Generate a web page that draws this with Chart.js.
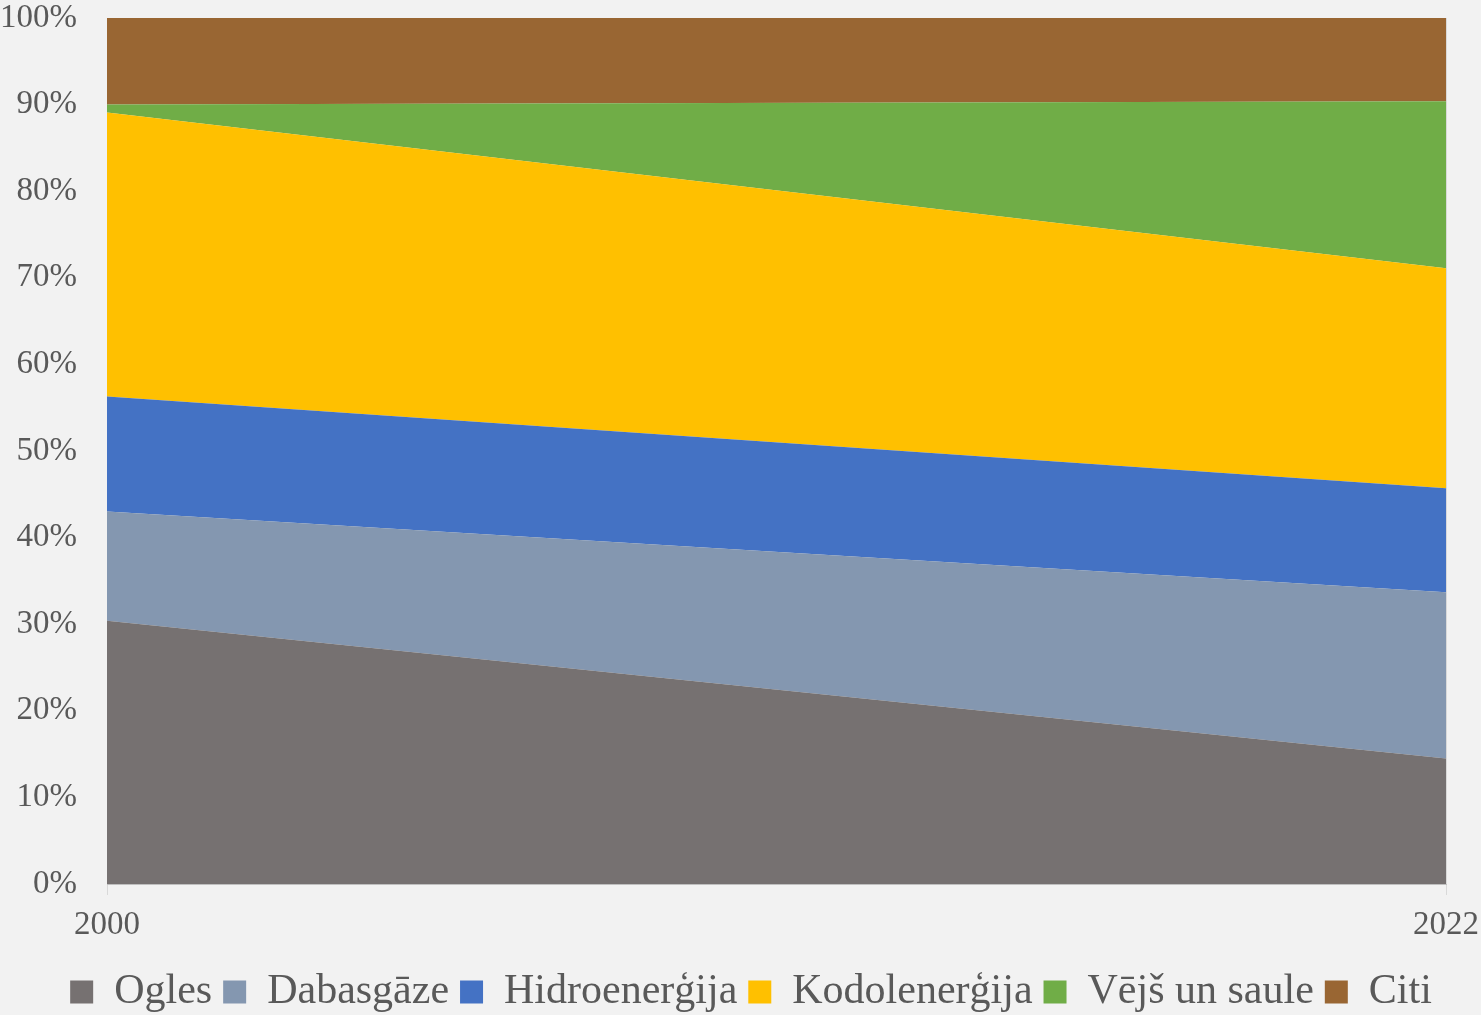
<!DOCTYPE html>
<html>
<head>
<meta charset="utf-8">
<script src="https://cdn.jsdelivr.net/npm/chart.js@4"></script>
<style>
    html, body { margin: 0; padding: 0; background: #f2f2f2; }
    #wrap { width: 1481px; height: 1015px; position: relative; }
</style>
</head>
<body>
<div id="wrap"><canvas id="energyChart"></canvas></div>
<script>
// Electricity mix, share of total (%)
const years = ['2000', '2022'];
const ogles = [30.4, 14.5];
const dabasgaze = [12.6, 19.2];
const hidro = [13.3, 12.0];
const kodol = [32.8, 25.4];
const vejsSaule = [0.9, 19.3];
const citi = [10.0, 9.6];

const seriesNames = ['Ogles', 'Dabasgāze', 'Hidroenerģija', 'Kodolenerģija', 'Vējš un saule', 'Citi'];
const seriesValues = [ogles, dabasgaze, hidro, kodol, vejsSaule, citi];
const seriesColors = ['#767171', '#8497b0', '#4472c4', '#ffc000', '#70ad47', '#996633'];

const textColor = '#595959';
const fontFamily = '"Liberation Serif", "DejaVu Serif", serif';

const datasets = seriesNames.map((name, i) => ({
    label: name,
    data: seriesValues[i],
    backgroundColor: seriesColors[i],
    borderColor: seriesColors[i],
    borderWidth: 0,
    pointRadius: 0,
    pointHoverRadius: 0,
    tension: 0,
    fill: i === 0 ? 'origin' : '-1'
}));

// The legend in the original is centred on the whole picture, not the plot
const legendShift = {
    id: 'legendShift',
    afterLayout(chart) {
        if (chart.legend) {
            chart.legend.left += 28;
            chart.legend.right += 28;
        }
    }
};

const ctx = document.getElementById('energyChart').getContext('2d');
new Chart(ctx, {
    type: 'line',
    data: { labels: years, datasets: datasets },
    plugins: [legendShift],
    options: {
        responsive: true,
        maintainAspectRatio: false,
        animation: false,
        layout: {
            padding: { top: 18, right: 35, bottom: -8, left: 0 }
        },
        scales: {
            x: {
                offset: false,
                grid: {
                    display: true,
                    color: '#d9d9d9',
                    lineWidth: 1,
                    tickLength: 11,
                    drawOnChartArea: true
                },
                border: { display: true, color: '#bfbfbf', width: 1 },
                ticks: {
                    color: textColor,
                    padding: 14,
                    maxRotation: 0,
                    font: { family: fontFamily, size: 33, lineHeight: 1 }
                },
                afterFit: function(scale) {
                    const legendH = scale.chart.legend ? scale.chart.legend.height : 0;
                    scale.height = 1015 - 884 - legendH + 8;
                    scale.paddingLeft = 0;
                    scale.paddingRight = 0;
                }
            },
            y: {
                stacked: true,
                min: 0,
                max: 100,
                grid: { display: false, drawTicks: false },
                border: { display: false },
                ticks: {
                    stepSize: 10,
                    color: textColor,
                    padding: 30,
                    font: { family: fontFamily, size: 33, lineHeight: 1 },
                    callback: function(value) {
                        return value + '%';
                    }
                },
                afterFit: function(scale) {
                    scale.width = 107;
                    scale.paddingTop = 0;
                    scale.paddingBottom = 0;
                }
            }
        },
        plugins: {
            legend: {
                position: 'bottom',
                labels: {
                    color: textColor,
                    boxWidth: 23,
                    boxHeight: 23,
                    padding: 11,
                    font: { family: fontFamily, size: 42 }
                }
            },
            tooltip: { enabled: false }
        }
    }
});
</script>
</body>
</html>
